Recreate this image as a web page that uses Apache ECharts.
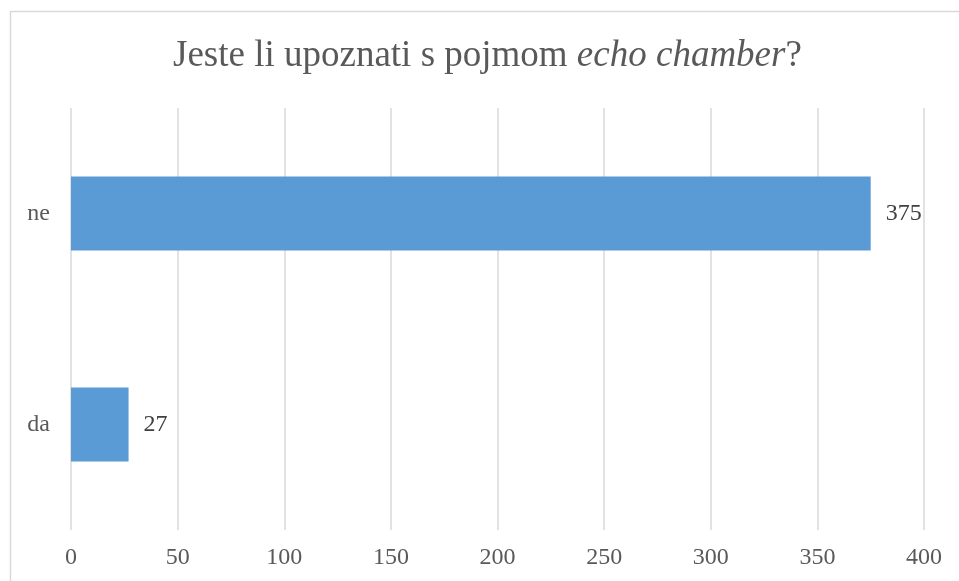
<!DOCTYPE html>
<html>
<head>
<meta charset="utf-8">
<script src="https://cdn.jsdelivr.net/npm/echarts@6/dist/echarts.min.js"></script>
<style>
  html, body { margin: 0; padding: 0; background: #fff; }
  #chart { width: 959px; height: 581px; }
</style>
</head>
<body>
<div id="chart"></div>
<script>
const categories = ['da', 'ne']
const values = [27, 375]
const xTicks = { min: 0, max: 400, interval: 50 }

const FONT = '"Liberation Serif", "Times New Roman", serif'

const chart = echarts.init(document.getElementById('chart'))

chart.setOption({
  animation: false,
  backgroundColor: '#fff',
  title: {
    text: '{n|Jeste li upoznati s pojmom }{i|echo chamber}{n|?}',
    left: 168,
    top: 33,
    textStyle: {
      rich: {
        n: { fontFamily: FONT, fontSize: 37, fontWeight: 'normal', color: '#595959' },
        i: { fontFamily: FONT, fontSize: 37, fontWeight: 'normal', color: '#595959', fontStyle: 'italic' },
      },
    },
  },
  graphic: [{
    type: 'rect',
    shape: { x: 10.5, y: 11.5, width: 1000, height: 700 },
    style: { fill: 'none', stroke: '#d9d9d9', lineWidth: 1.5 },
    silent: true,
  }],
  grid: { left: 71, right: 35, top: 108, bottom: 51 },
  xAxis: {
    type: 'value',
    min: xTicks.min,
    max: xTicks.max,
    interval: xTicks.interval,
    axisLine: { show: false },
    axisTick: { show: false },
    axisLabel: { color: '#595959', fontFamily: FONT, fontSize: 24, margin: 16 },
    splitLine: { lineStyle: { color: '#d9d9d9', width: 1.5 } },
  },
  yAxis: {
    type: 'category',
    data: categories,
    axisLine: { show: false },
    axisTick: { show: false },
    axisLabel: { color: '#595959', fontFamily: FONT, fontSize: 24, margin: 21 },
  },
  series: [{
    type: 'bar',
    data: values,
    barCategoryGap: '65%',
    itemStyle: { color: '#5b9bd5' },
    label: {
      show: true,
      position: 'right',
      distance: 15,
      color: '#404040',
      fontFamily: FONT,
      fontSize: 24,
    },
  }],
})
</script>
</body>
</html>
